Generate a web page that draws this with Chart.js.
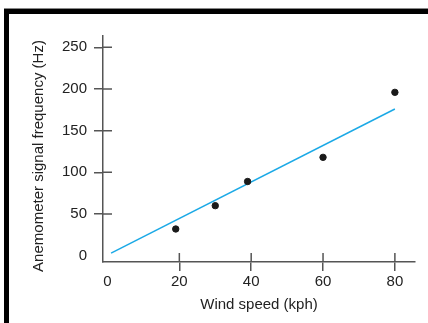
<!DOCTYPE html>
<html>
<head>
<meta charset="utf-8">
<script src="https://cdn.jsdelivr.net/npm/chart.js@4"></script>
<style>
  body { margin: 0; background: #fff; }
  #wrap { position: relative; width: 428px; height: 323px; overflow: hidden; }
  #grayline { position: absolute; left: 4px; top: 8px; width: 424px; height: 1px; background: #888; }
  #frame { position: absolute; left: 4px; top: 9px; right: 0; bottom: 0;
           border-left: 5px solid #000; border-top: 5px solid #000; }
  canvas { position: absolute; left: 0; top: 0; }
</style>
</head>
<body>
<div id="wrap">
  <div id="grayline"></div>
  <div id="frame"></div>
  <canvas id="myChart" width="428" height="323"></canvas>
</div>
<script>
const windSpeed = [19, 30, 39, 60, 80];
const frequency = [32, 60, 89, 118, 196];
const fitSpeed = [1, 80];
const fitFrequency = [3, 176];
const xTicks = [0, 20, 40, 60, 80];
const yTicks = [0, 50, 100, 150, 200, 250];
const yTitle = 'Anemometer signal frequency (Hz)';

const axisColor = '#555';
const textColor = '#222';
const fontFamily = "'Liberation Sans', Arial, sans-serif";
const font = { family: fontFamily, size: 15 };

// ticks cross the axis: chart.js draws the outer half, this draws the inner half
// y title is drawn here too, it sits a bit below the middle of the axis
const extras = {
  id: 'extras',
  afterDatasetsDraw(chart) {
    const { ctx, chartArea, scales } = chart;
    ctx.save();
    ctx.strokeStyle = axisColor;
    ctx.lineWidth = 1.5;
    ctx.beginPath();
    xTicks.forEach(v => {
      if (v === 0) return;
      const px = scales.x.getPixelForValue(v);
      ctx.moveTo(px, chartArea.bottom);
      ctx.lineTo(px, chartArea.bottom - 9);
    });
    yTicks.forEach(v => {
      if (v === 0) return;
      const py = scales.y.getPixelForValue(v);
      ctx.moveTo(chartArea.left, py);
      ctx.lineTo(chartArea.left + 9, py);
    });
    ctx.stroke();

    ctx.translate(39, 156);
    ctx.rotate(-Math.PI / 2);
    ctx.fillStyle = textColor;
    ctx.font = '15px ' + fontFamily;
    ctx.textAlign = 'center';
    ctx.textBaseline = 'middle';
    ctx.fillText(yTitle, 0, 0);
    ctx.restore();
  }
};

const tickColor = c => (c.tick && c.tick.value === 0) ? 'rgba(0,0,0,0)' : axisColor;

new Chart(document.getElementById('myChart'), {
  type: 'scatter',
  data: {
    datasets: [{
      label: 'Measured',
      data: windSpeed.map((x, i) => ({ x: x, y: frequency[i] })),
      backgroundColor: '#1a1a1a',
      borderColor: '#1a1a1a',
      pointRadius: 3.2,
      pointHoverRadius: 3.2
    }, {
      label: 'Fit',
      data: fitSpeed.map((x, i) => ({ x: x, y: fitFrequency[i] })),
      showLine: true,
      borderColor: '#1ba9e6',
      borderWidth: 1.5,
      pointRadius: 0
    }]
  },
  options: {
    responsive: false,
    animation: false,
    layout: { padding: { top: 36, right: 13, left: 0, bottom: 0 } },
    plugins: { legend: { display: false }, tooltip: { enabled: false } },
    scales: {
      x: {
        type: 'linear',
        min: -1.25,
        max: 85.6,
        afterBuildTicks: s => { s.ticks = xTicks.map(v => ({ value: v })); },
        afterFit: s => { s.height = 61; },
        grid: { drawOnChartArea: false, tickLength: 9, lineWidth: 1.5, color: tickColor },
        border: { color: axisColor, width: 1.5 },
        ticks: { font: font, color: textColor, padding: 1.5, maxRotation: 0 },
        title: { display: true, text: 'Wind speed (kph)', font: font, color: textColor,
                 padding: { top: 0, bottom: 9.5 } }
      },
      y: {
        type: 'linear',
        min: -7.6,
        max: 263.6,
        afterBuildTicks: s => { s.ticks = yTicks.map(v => ({ value: v })); },
        afterFit: s => { s.width = 103; },
        grid: { drawOnChartArea: false, tickLength: 9, lineWidth: 1.5, color: tickColor },
        border: { color: axisColor, width: 1.5 },
        ticks: { font: font, color: textColor, padding: 7 },
        title: { display: false }
      }
    }
  },
  plugins: [extras]
});
</script>
</body>
</html>
